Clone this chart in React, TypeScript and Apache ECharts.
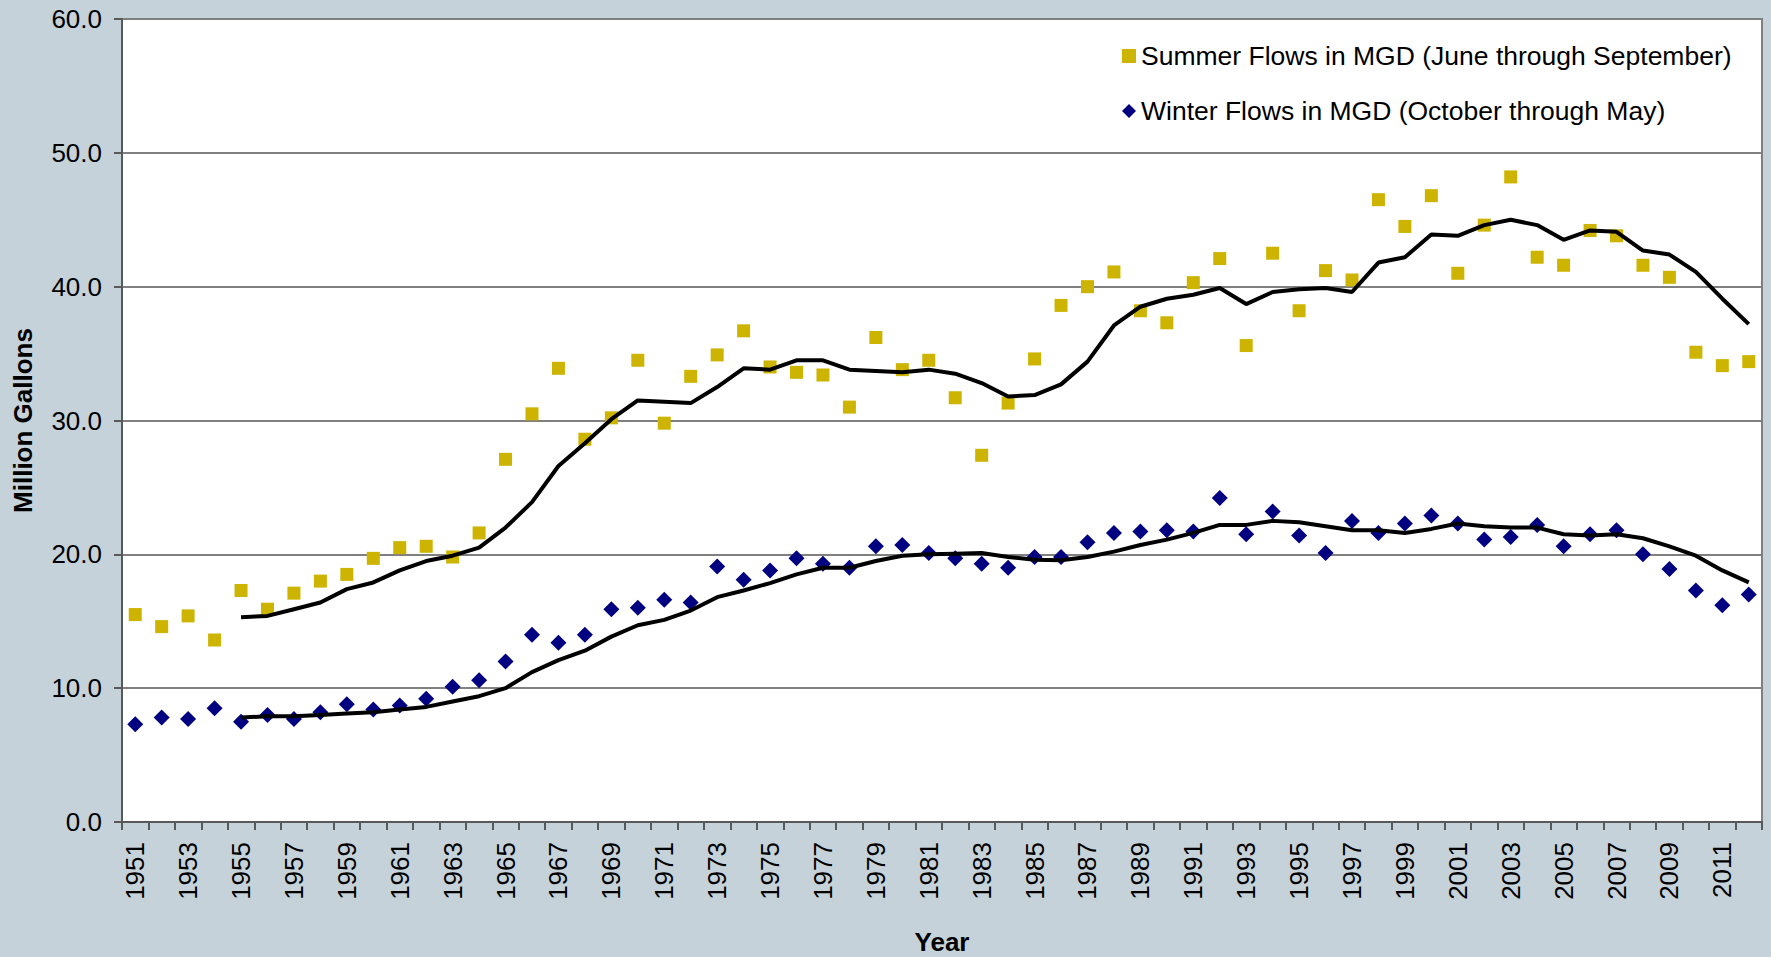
import React, { useEffect, useRef } from "react";
import * as echarts from "echarts";

const years = [
  "1951","1952","1953","1954","1955","1956","1957","1958","1959","1960",
  "1961","1962","1963","1964","1965","1966","1967","1968","1969","1970",
  "1971","1972","1973","1974","1975","1976","1977","1978","1979","1980",
  "1981","1982","1983","1984","1985","1986","1987","1988","1989","1990",
  "1991","1992","1993","1994","1995","1996","1997","1998","1999","2000",
  "2001","2002","2003","2004","2005","2006","2007","2008","2009","2010",
  "2011","2012",
];

const summerFlows = [
  15.5, 14.6, 15.4, 13.6, 17.3, 15.9, 17.1, 18.0, 18.5, 19.7,
  20.5, 20.6, 19.8, 21.6, 27.1, 30.5, 33.9, 28.6, 30.2, 34.5,
  29.8, 33.3, 34.9, 36.7, 34.0, 33.6, 33.4, 31.0, 36.2, 33.8,
  34.5, 31.7, 27.4, 31.3, 34.6, 38.6, 40.0, 41.1, 38.2, 37.3,
  40.3, 42.1, 35.6, 42.5, 38.2, 41.2, 40.5, 46.5, 44.5, 46.8,
  41.0, 44.6, 48.2, 42.2, 41.6, 44.2, 43.8, 41.6, 40.7, 35.1,
  34.1, 34.4,
];

const winterFlows = [
  7.3, 7.8, 7.7, 8.5, 7.5, 8.0, 7.7, 8.2, 8.8, 8.4,
  8.7, 9.2, 10.1, 10.6, 12.0, 14.0, 13.4, 14.0, 15.9, 16.0,
  16.6, 16.4, 19.1, 18.1, 18.8, 19.7, 19.3, 19.0, 20.6, 20.7,
  20.1, 19.7, 19.3, 19.0, 19.8, 19.8, 20.9, 21.6, 21.7, 21.8,
  21.7, 24.2, 21.5, 23.2, 21.4, 20.1, 22.5, 21.6, 22.3, 22.9,
  22.3, 21.1, 21.3, 22.2, 20.6, 21.5, 21.8, 20.0, 18.9, 17.3,
  16.2, 17.0,
];

// Trend lines (5-year averages), 1955 to 2012
const trendStartYear = "1955";
const summerTrend = [
  15.3, 15.4, 15.9, 16.4, 17.4, 17.9, 18.8, 19.5, 19.9, 20.5,
  22.0, 23.9, 26.6, 28.3, 30.1, 31.5, 31.4, 31.3, 32.5, 33.9,
  33.8, 34.5, 34.5, 33.8, 33.7, 33.6, 33.8, 33.5, 32.8, 31.8,
  31.9, 32.7, 34.4, 37.1, 38.5, 39.1, 39.4, 39.9, 38.7, 39.6,
  39.8, 39.9, 39.6, 41.8, 42.2, 43.9, 43.8, 44.6, 45.0, 44.6,
  43.5, 44.2, 44.1, 42.7, 42.4, 41.1, 39.1, 37.2,
];
const winterTrend = [
  7.8, 7.9, 7.9, 8.0, 8.1, 8.2, 8.4, 8.6, 9.0, 9.4,
  10.0, 11.2, 12.1, 12.8, 13.85, 14.7, 15.1, 15.8, 16.8, 17.3,
  17.85, 18.5, 19.0, 19.0, 19.5, 19.9, 20.0, 20.05, 20.1, 19.8,
  19.6, 19.55, 19.8, 20.2, 20.7, 21.1, 21.6, 22.2, 22.2, 22.5,
  22.4, 22.1, 21.8, 21.8, 21.6, 21.9, 22.3, 22.1, 22.0, 22.0,
  21.5, 21.4, 21.5, 21.2, 20.6, 19.9, 18.8, 17.9,
];

const SUMMER_NAME = "Summer Flows in MGD (June through September)";
const WINTER_NAME = "Winter Flows in MGD (October through May)";
const FONT = "'Liberation Sans', Arial, sans-serif";

function padTrend(trend: number[]) {
  const offset = years.indexOf(trendStartYear);
  return years.map((_, i) => (i < offset ? null : trend[i - offset]));
}

export default function App() {
  const ref = useRef<HTMLDivElement>(null);

  useEffect(() => {
    if (!ref.current) return;
    const chart = echarts.init(ref.current, null, { renderer: "svg" });
    chart.setOption({
      animation: false,
      backgroundColor: "#C6D2D9",
      textStyle: { fontFamily: FONT },
      grid: {
        left: 122,
        right: 9,
        top: 19,
        bottom: 135,
        containLabel: false,
        outerBoundsMode: "none",
        show: true,
        backgroundColor: "#FFFFFF",
        borderColor: "#808080",
        borderWidth: 2,
      },
      legend: {
        data: [SUMMER_NAME, WINTER_NAME],
        orient: "vertical",
        left: 1117,
        top: 36,
        itemWidth: 14,
        itemHeight: 14,
        itemGap: 25,
        textStyle: { fontSize: 26.5, color: "#000", fontFamily: FONT, lineHeight: 30 },
      },
      xAxis: {
        type: "category",
        data: years,
        boundaryGap: true,
        name: "Year",
        nameLocation: "middle",
        nameGap: 108,
        nameTextStyle: {
          fontSize: 26,
          fontWeight: "bold",
          color: "#000",
          fontFamily: FONT,
          lineHeight: 24,
        },
        axisLine: { lineStyle: { color: "#595959", width: 2 } },
        axisTick: { show: true, interval: 0, length: 8, lineStyle: { color: "#595959", width: 2 } },
        axisLabel: {
          interval: 1,
          rotate: 90,
          margin: 20,
          fontSize: 26,
          color: "#000",
          fontFamily: FONT,
        },
        splitLine: { show: false },
      },
      yAxis: {
        type: "value",
        min: 0,
        max: 60,
        interval: 10,
        name: "Million Gallons",
        nameLocation: "middle",
        nameRotate: 90,
        nameGap: 86,
        nameTextStyle: { fontSize: 26, fontWeight: "bold", color: "#000", fontFamily: FONT },
        axisLine: { show: true, lineStyle: { color: "#595959", width: 2 } },
        axisTick: { show: true, length: 8, lineStyle: { color: "#595959", width: 2 } },
        axisLabel: {
          margin: 20,
          fontSize: 26,
          color: "#000",
          fontFamily: FONT,
          formatter: (v: number) => v.toFixed(1),
        },
        splitLine: { show: true, lineStyle: { color: "#808080", width: 2 } },
      },
      series: [
        {
          name: SUMMER_NAME,
          type: "scatter",
          data: summerFlows,
          symbol: "rect",
          symbolSize: 13,
          itemStyle: { color: "#CCB400", opacity: 1 },
          z: 2,
        },
        {
          name: WINTER_NAME,
          type: "scatter",
          data: winterFlows,
          symbol: "diamond",
          symbolSize: 16,
          itemStyle: { color: "#000080", opacity: 1 },
          z: 2,
        },
        {
          name: "Summer 5-year average",
          type: "line",
          data: padTrend(summerTrend),
          symbol: "none",
          lineStyle: { color: "#000", width: 4 },
          itemStyle: { color: "#000" },
          connectNulls: false,
          z: 3,
        },
        {
          name: "Winter 5-year average",
          type: "line",
          data: padTrend(winterTrend),
          symbol: "none",
          lineStyle: { color: "#000", width: 4 },
          itemStyle: { color: "#000" },
          connectNulls: false,
          z: 3,
        },
      ],
    });
    return () => chart.dispose();
  }, []);

  return (
    <div
      ref={ref}
      style={{ position: "fixed", left: 0, top: 0, width: 1771, height: 957 }}
    />
  );
}
